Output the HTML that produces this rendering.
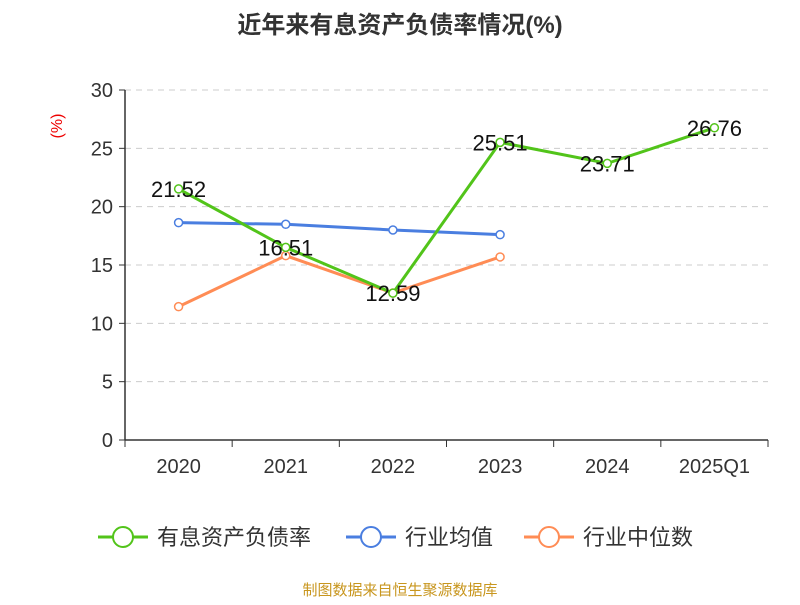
<!DOCTYPE html>
<html><head><meta charset="utf-8"><style>
body{margin:0;background:#fff;}
svg text{font-family:"Liberation Sans","Noto Sans CJK SC",sans-serif;}
</style></head><body>
<svg id="chart" width="800" height="600" xmlns="http://www.w3.org/2000/svg">
<text x="400" y="33" text-anchor="middle" font-size="24" font-weight="bold" fill="#333">近年来有息资产负债率情况(%)</text>
<text x="62" y="126" text-anchor="middle" font-size="16" fill="#e00" transform="rotate(-90 62 126)">(%)</text>
<g id="grid"></g><g id="axes"></g><g id="series"></g>
<g>
<g><line x1="98" y1="537" x2="148" y2="537" stroke="#52c41a" stroke-width="3"/><circle cx="123" cy="537" r="10" fill="#fff" stroke="#52c41a" stroke-width="2"/><text x="157" y="545" font-size="22" fill="#333">有息资产负债率</text></g>
<g><line x1="346" y1="537" x2="396" y2="537" stroke="#4a7ee0" stroke-width="3"/><circle cx="371" cy="537" r="10" fill="#fff" stroke="#4a7ee0" stroke-width="2"/><text x="405" y="545" font-size="22" fill="#333">行业均值</text></g>
<g><line x1="524" y1="537" x2="574" y2="537" stroke="#ff8c55" stroke-width="3"/><circle cx="549" cy="537" r="10" fill="#fff" stroke="#ff8c55" stroke-width="2"/><text x="583" y="545" font-size="22" fill="#333">行业中位数</text></g>
</g>
<text x="400" y="595" text-anchor="middle" font-size="15" fill="#c8961e">制图数据来自恒生聚源数据库</text>
</svg>
<script>
const categories=["2020","2021","2022","2023","2024","2025Q1"];
const debtRatio=[21.52,16.51,12.59,25.51,23.71,26.76];
const industryAvg=[18.63,18.49,18.0,17.6];
const industryMedian=[11.43,15.8,12.6,15.69];
const yTicks=[0,5,10,15,20,25,30];
const NS="http://www.w3.org/2000/svg";
const X0=125,X1=768,Y0=440,Y1=90;
const bw=(X1-X0)/categories.length;
const xs=i=>X0+bw*(i+0.5);
const ys=v=>Y0-(v/30)*(Y0-Y1);
function mk(t,a,p){const e=document.createElementNS(NS,t);for(const k in a)e.setAttribute(k,a[k]);p.appendChild(e);return e;}
const grid=document.getElementById('grid'),axes=document.getElementById('axes'),ser=document.getElementById('series');
yTicks.forEach(v=>{
 if(v>0){const l=mk('line',{x1:X0,x2:X1,y1:ys(v),y2:ys(v),stroke:'#ccc','stroke-dasharray':'6,5'},grid);
 
 }
 const tk=mk('line',{x1:X0-6,x2:X0,y1:ys(v),y2:ys(v),stroke:'#333'},axes);
 
 
 const t=mk('text',{x:X0-12,y:ys(v)+7,'text-anchor':'end','font-size':20,fill:'#333'},axes);t.textContent=v;
 
 
});
const ya=mk('line',{x1:X0,x2:X0,y1:Y1,y2:Y0,stroke:'#333','stroke-width':1.5},axes);


const xa=mk('line',{x1:X0,x2:X1,y1:Y0,y2:Y0,stroke:'#333','stroke-width':1.5},axes);


for(let i=0;i<=categories.length;i++){const tk=mk('line',{x1:X0+bw*i,x2:X0+bw*i,y1:Y0,y2:Y0+7,stroke:'#333'},axes);
 
 }
categories.forEach((c,i)=>{const t=mk('text',{x:xs(i),y:473,'text-anchor':'middle','font-size':20,fill:'#333'},axes);t.textContent=c;
 
 });
function series(vals,color,name,labels){
 const g=mk('g',{},ser);
 
 
 const p=mk('polyline',{points:vals.map((v,i)=>xs(i)+','+ys(v)).join(' '),fill:'none',stroke:color,'stroke-width':3},g);
 
 
 vals.forEach((v,i)=>{const c=mk('circle',{cx:xs(i),cy:ys(v),r:4,fill:'#fff',stroke:color,'stroke-width':1.5},g);
  
  
  if(labels){const t=mk('text',{x:xs(i),y:ys(v)+8,'text-anchor':'middle','font-size':22,fill:'#111'},g);t.textContent=v.toFixed(2);
  
  }
 });
}
series(industryAvg,'#4a7ee0','industry-avg-series',false);
series(industryMedian,'#ff8c55','industry-median-series',false);
series(debtRatio,'#52c41a','debt-ratio-series',true);
</script>
</body></html>
